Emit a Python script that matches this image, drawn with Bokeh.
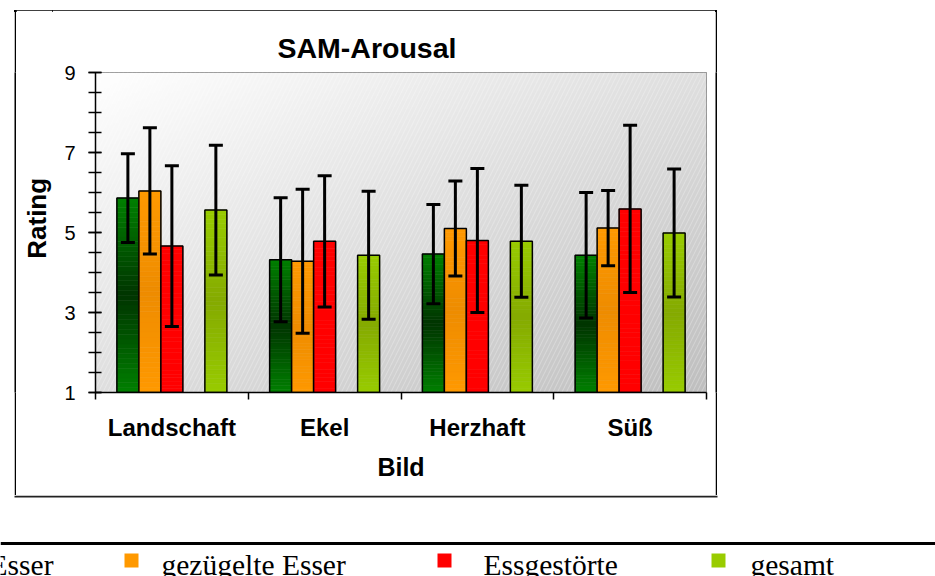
import numpy as np
from bokeh.plotting import figure
from bokeh.models import (Range1d, FixedTicker, Whisker, ColumnDataSource, TeeHead,
                          Spacer, Span, Div)
from bokeh.layouts import column, row
from bokeh.embed import file_html
from bokeh.resources import INLINE
from bokeh.core.properties import value

# ---------------- data ----------------
categories = ["Landschaft", "Ekel", "Herzhaft", "Süß"]
series = ["ungezügelte Esser", "gezügelte Esser", "Essgestörte", "gesamt"]
mean_ungez = [5.86, 4.32, 4.46, 4.43]
sd_ungez = [1.11, 1.55, 1.24, 1.57]
mean_gez = [6.04, 4.28, 5.10, 5.11]
sd_gez = [1.58, 1.80, 1.19, 0.94]
mean_essg = [4.66, 4.78, 4.80, 5.59]
sd_essg = [2.01, 1.64, 1.80, 2.09]
mean_ges = [5.56, 4.43, 4.78, 4.99]
sd_ges = [1.62, 1.60, 1.40, 1.60]
y_ticks = [1, 3, 5, 7, 9]

means = [mean_ungez, mean_gez, mean_essg, mean_ges]
sds = [sd_ungez, sd_gez, sd_essg, sd_ges]
slots = [0, 1, 2, 4]          # 4th slot of each group is empty in the original
edge_cols = [(0, 128, 0), (255, 153, 0), (255, 0, 0), (153, 204, 0)]
mid_cols = [(0, 52, 0), (238, 140, 0), (255, 0, 0), (132, 170, 0)]
legend_cols = ["#008000", "#FF9900", "#FF0000", "#99CC00"]

SLOT = 0.144
FONT = "Liberation Sans"


def bare_fig(w, h, xr, yr):
    f = figure(width=w, height=h, x_range=xr, y_range=yr, title=None,
               toolbar_location=None, output_backend="svg",
               x_axis_type=None, y_axis_type=None, min_border=0)
    f.outline_line_color = None
    f.xgrid.visible = False
    f.ygrid.visible = False
    return f


def line_fig(w, h, color="black"):
    f = bare_fig(w, h, Range1d(0, 1), Range1d(0, 1))
    f.background_fill_color = color
    f.border_fill_color = color
    return f


# ---------------- chart ----------------
P_W, P_H = 663, 485
p = figure(width=P_W, height=P_H, x_range=Range1d(0, 4), y_range=Range1d(1, 9),
           output_backend="svg", toolbar_location=None,
           min_border_left=43, min_border_right=9, min_border_top=62,
           min_border_bottom=103)
p.border_fill_color = "white"
p.background_fill_color = "#e6e6e6"

# background gradient (top-left white -> bottom-right grey)
nx, ny = 200, 120
u = np.linspace(0, 1, nx)[None, :]
v = np.linspace(0, 1, ny)[:, None]
t = (u + (1 - v)) / 2.0
g = (255 - t * 64).astype(np.uint32)
img = (255 << 24) | (g << 16) | (g << 8) | g
p.image_rgba(image=[img.astype(np.uint32)], x=0, y=1, dw=4, dh=8)
p.quad(left=0, right=4, bottom=1, top=9, fill_alpha=0, line_alpha=0,
       hatch_pattern="/", hatch_color="white", hatch_alpha=0.35, hatch_scale=9,
       hatch_weight=0.8)

p.xgrid.visible = False
p.ygrid.ticker = FixedTicker(ticks=[3, 5, 7])
p.ygrid.grid_line_color = "#808080"
p.ygrid.grid_line_width = 1
p.outline_line_color = "#808080"
p.outline_line_width = 1

# bars with vertical gradient
N = 40
for i, (m_list, s_list) in enumerate(zip(means, sds)):
    xs, bots, tops, cols = [], [], [], []
    for j, m in enumerate(m_list):
        xc = j + 0.5 + (slots[i] - 2) * SLOT
        edges = np.linspace(1, m, N + 1)
        for k in range(N):
            tt = (k + 0.5) / N
            f = 1 - abs(2 * tt - 1)
            c = tuple(int(round(edge_cols[i][q] * (1 - f) + mid_cols[i][q] * f)) for q in range(3))
            xs.append(xc)
            bots.append(edges[k])
            tops.append(edges[k + 1])
            cols.append("#%02x%02x%02x" % c)
    src = ColumnDataSource(dict(x=xs, bottom=bots, top=tops, color=cols))
    p.vbar(x="x", bottom="bottom", top="top", width=SLOT, fill_color="color",
           line_color="color", line_width=0.6, source=src)
    bx = [j + 0.5 + (slots[i] - 2) * SLOT for j in range(len(m_list))]
    p.vbar(x=bx, bottom=1, top=m_list, width=SLOT, fill_color=None,
           line_color="black", line_width=1.5)
    esrc = ColumnDataSource(dict(base=bx,
                                 upper=[m + s for m, s in zip(m_list, s_list)],
                                 lower=[m - s for m, s in zip(m_list, s_list)]))
    p.add_layout(Whisker(base="base", upper="upper", lower="lower", source=esrc,
                         level="annotation", line_color="black", line_width=3,
                         upper_head=TeeHead(size=14, line_width=3, line_color="black"),
                         lower_head=TeeHead(size=14, line_width=3, line_color="black")))

# title
p.title.text = "SAM-Arousal"
p.title.text_font = FONT
p.title.text_font_size = "28.5px"
p.title.text_font_style = "bold"
p.title.text_color = "black"
p.title.align = "left"
p.title.offset = 182
p.title.standoff = 17

# y axis
ya = p.yaxis[0]
ya.ticker = FixedTicker(ticks=y_ticks, minor_ticks=list(np.arange(1, 9.01, 0.5)))
ya.axis_line_color = "black"
ya.axis_line_width = 1.5
ya.major_tick_in = 6
ya.major_tick_out = 7
ya.minor_tick_in = 6
ya.minor_tick_out = 7
ya.major_tick_line_width = 1.5
ya.minor_tick_line_width = 1.5
ya.major_tick_line_color = "black"
ya.minor_tick_line_color = "black"
ya.major_label_text_font = FONT
ya.major_label_text_font_size = "20px"
ya.major_label_text_color = "black"
ya.major_label_standoff = 13

# x axis (ticks at category boundaries, labels centred)
xa = p.xaxis[0]
xa.ticker = FixedTicker(ticks=[j + 0.5 for j in range(len(categories))],
                        minor_ticks=list(range(len(categories) + 1)))
xa.major_label_overrides = {j + 0.5: c for j, c in enumerate(categories)}
xa.axis_line_color = "black"
xa.axis_line_width = 1.5
xa.major_tick_in = 0
xa.major_tick_out = 0
xa.minor_tick_in = 0
xa.minor_tick_out = 7
xa.minor_tick_line_color = "black"
xa.minor_tick_line_width = 1.5
xa.major_label_text_font = FONT
xa.major_label_text_font_size = "24px"
xa.major_label_text_font_style = "bold"
xa.major_label_text_color = "black"
xa.major_label_standoff = 14
xa.axis_label = "Bild"
xa.axis_label_text_font = FONT
xa.axis_label_text_font_size = "25px"
xa.axis_label_text_font_style = "bold"
xa.axis_label_text_color = "black"
xa.axis_label_standoff = 9

# ---------------- y axis title strip ----------------
rf = bare_fig(36, P_H, Range1d(16, 52), Range1d(-495, -10))
rf.text(x=[36], y=[-231], text=["Rating"], angle=np.pi / 2, text_align="center",
        text_baseline="middle", text_font=value(FONT), text_font_size="26px",
        text_font_style="bold", text_color="black")

# ---------------- top strip (upper edge of chart box) ----------------
top = Div(width=935, height=10,
          text='<div style="height:8px"></div>'
               '<div style="margin-left:14px;width:703px;height:2px;background:#000"></div>',
          styles={"margin": "0", "padding": "0"})

# ---------------- legend strip (incl. lower edge of chart box) ----------------
lg = bare_fig(935, 81, Range1d(0, 935), Range1d(576, 495))
lg.quad(left=[14], right=[717], top=[495], bottom=[497], fill_color="#222222",
        line_color=None)
lg.add_layout(Span(location=543, dimension="width", line_color="black", line_width=3))
sq_x = [-170, 131, 444, 718]
tx_x = [53, 161, 483, 750]
lg.rect(x=sq_x, y=[560] * 4, width=14, height=14, width_units="screen",
        height_units="screen", fill_color=legend_cols, line_color=None)
lg.text(x=tx_x[1:], y=[564] * 3, text=series[1:], text_font=value("Liberation Serif"),
        text_font_size="29.5px", text_baseline="alphabetic", text_align="left",
        text_color="black")
lg.text(x=[tx_x[0]], y=[564], text=[series[0]], text_font=value("Liberation Serif"),
        text_font_size="29.5px", text_baseline="alphabetic", text_align="right",
        text_color="black")

layout = column(
    top,
    row(Spacer(width=14, height=P_H), line_fig(2, P_H), rf, p, line_fig(2, P_H)),
    lg,
)
open("out.html", "w").write(file_html(layout, INLINE))
